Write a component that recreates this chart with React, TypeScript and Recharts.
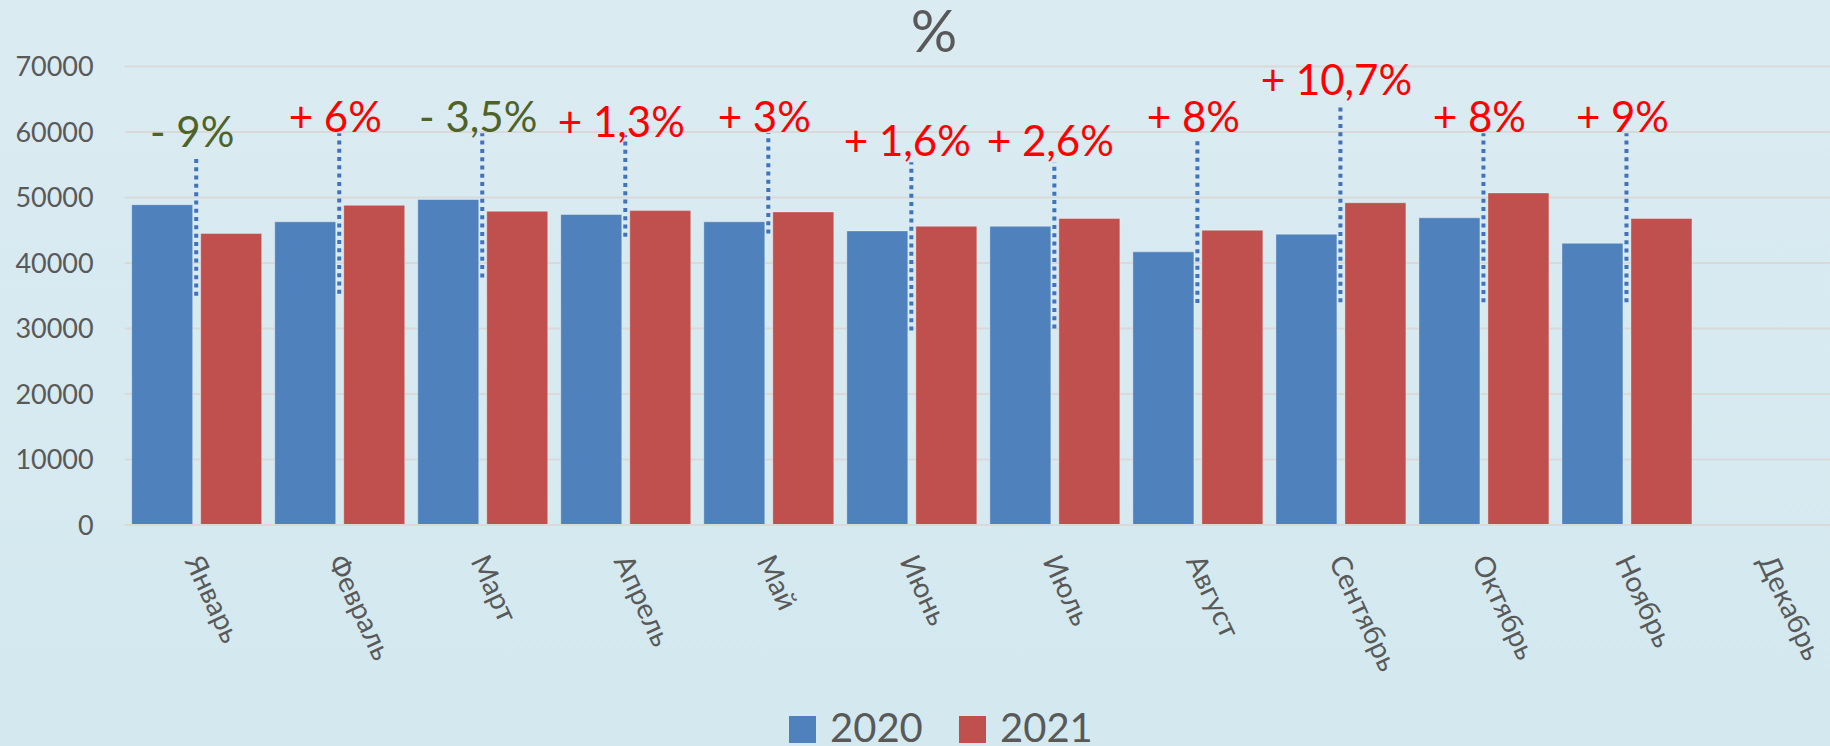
import React from 'react';
import { BarChart, Bar, XAxis, YAxis, CartesianGrid, ReferenceLine, ReferenceDot } from 'recharts';

const months = ['Январь', 'Февраль', 'Март', 'Апрель', 'Май', 'Июнь', 'Июль', 'Август', 'Сентябрь', 'Октябрь', 'Ноябрь', 'Декабрь'];
const values2020 = [48900, 46300, 49700, 47400, 46300, 44900, 45600, 41700, 44400, 46900, 43000, null];
const values2021 = [44500, 48800, 47900, 48000, 47800, 45600, 46800, 45000, 49200, 50700, 46800, null];
const yTicks = [0, 10000, 20000, 30000, 40000, 50000, 60000, 70000];

// change annotations (one per month that has data)
const changeLabels = ['- 9%', '+ 6%', '- 3,5%', '+ 1,3%', '+ 3%', '+ 1,6%', '+ 2,6%', '+ 8%', '+ 10,7%', '+ 8%', '+ 9%'];
const changeLabelY = [57700, 60000, 60000, 59300, 60000, 56400, 56400, 60000, 65600, 60000, 60000];
const changeLineTop = [56000, 59800, 59800, 59500, 59800, 55400, 55400, 59200, 63800, 59800, 59800];
const changeLineBottom = [35000, 35300, 37800, 44000, 44500, 29700, 30000, 33900, 34000, 34000, 34000];

const seriesNames = ['2020', '2021'];
const seriesColors = ['#4F81BD', '#C0504D'];

const data = months.map((m, i) => ({ month: m, y2020: values2020[i], y2021: values2021[i] }));

const FONT = 'Lato, "Open Sans", sans-serif';
const TEXT_GRAY = '#595959';
const GREEN = '#4F6228';
const RED = '#FF0000';

const XTick = (props: any) => {
  const { x, y, payload } = props;
  return (
    <g transform={`translate(${x},${y})`}>
      <text
        x={0}
        y={0}
        transform="translate(-12,36) rotate(65)"
        textAnchor="start"
        fill={TEXT_GRAY}
        fontSize={28.5}
        fontFamily={FONT}
      >
        {payload.value}
      </text>
    </g>
  );
};

export default function App() {
  return (
    <div
      style={{
        position: 'absolute',
        left: 0,
        top: 0,
        width: 1830,
        height: 746,
        overflow: 'hidden',
        background: 'linear-gradient(180deg, #DBEBF2 0%, #D3E9EF 100%)',
      }}
    >
      <BarChart
        width={1841}
        height={746}
        data={data}
        margin={{ top: 66.5, right: 0, left: 0, bottom: 0 }}
        barSize={61}
        barGap={8}
      >
        <CartesianGrid vertical={false} stroke="#D9D9D9" strokeWidth={2} />
        <XAxis
          dataKey="month"
          interval={0}
          height={221}
          tickLine={false}
          tickSize={0}
          tickMargin={0}
          axisLine={{ stroke: '#D9D9D9', strokeWidth: 2 }}
          tick={<XTick />}
        />
        <YAxis
          width={124.7}
          domain={[0, 70000]}
          ticks={yTicks}
          interval={0}
          axisLine={false}
          tickLine={false}
          tickSize={0}
          tickMargin={31}
          tick={{ fill: TEXT_GRAY, fontSize: 27, fontFamily: FONT }}
        />
        <Bar dataKey="y2020" name={seriesNames[0]} fill={seriesColors[0]} stroke="#ffffff" strokeOpacity={0.35} strokeWidth={1} isAnimationActive={false} />
        <Bar dataKey="y2021" name={seriesNames[1]} fill={seriesColors[1]} stroke="#ffffff" strokeOpacity={0.35} strokeWidth={1} isAnimationActive={false} />
        {changeLabels.map((lab, i) => (
          <ReferenceLine
            key={`l${i}`}
            segment={[
              { x: months[i], y: changeLineBottom[i] },
              { x: months[i], y: changeLineTop[i] },
            ]}
            stroke="#3F73BB"
            strokeWidth={4}
            strokeDasharray="4 4.3"
          />
        ))}
        {changeLabels.map((lab, i) => (
          <ReferenceDot
            key={`t${i}`}
            x={months[i]}
            y={changeLabelY[i]}
            r={0}
            shape={(p: any) => (
              <text
                x={p.cx - 4}
                y={p.cy}
                textAnchor="middle"
                fontSize={42}
                fontFamily={FONT}
                fill={lab.startsWith('-') ? GREEN : RED}
              >
                {lab}
              </text>
            )}
          />
        ))}
      </BarChart>
      <svg
        width={1830}
        height={746}
        style={{ position: 'absolute', left: 0, top: 0, pointerEvents: 'none' }}
      >
        <text x={934} y={52} textAnchor="middle" fontSize={58} fontFamily={FONT} fill={TEXT_GRAY}>
          %
        </text>
        {seriesNames.map((n, i) => (
          <g key={n} transform={`translate(${789 + i * 170},716)`}>
            <rect x={0} y={0} width={27} height={27} fill={seriesColors[i]} />
            <text x={41} y={26} fontSize={40} fontFamily={FONT} fill={TEXT_GRAY}>
              {n}
            </text>
          </g>
        ))}
      </svg>
    </div>
  );
}
